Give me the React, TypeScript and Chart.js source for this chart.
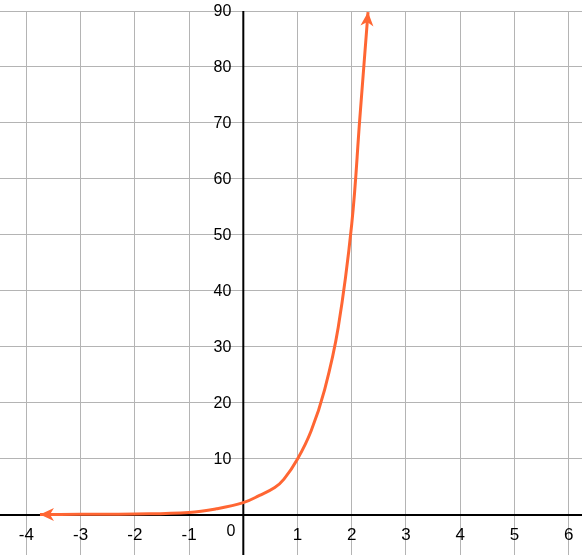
import React, { useEffect, useRef } from "react";
import { Chart, registerables } from "chart.js";

Chart.register(...registerables);

const X_VALUES = [-3.75, -3, -2, -1, -0.5, 0, 0.3, 0.58, 0.75, 1, 1.25, 1.5, 1.75, 2, 2.15, 2.3];
const Y_VALUES = [0.1, 0.12, 0.18, 0.45, 1.1, 2.2, 3.5, 4.9, 6.4, 10, 15, 22.4, 33.5, 52, 71, 89.8];
const X_TICKS = [-4, -3, -2, -1, 0, 1, 2, 3, 4, 5, 6];
const Y_TICKS = [0, 10, 20, 30, 40, 50, 60, 70, 80, 90];
const X_MIN = -4.487;
const X_MAX = 6.246;
const Y_MIN = -7.143;
const Y_MAX = 90;

const LINE_COLOR = "rgb(255,102,51)";
const GRID_COLOR = "#b4b4b4";
const FONT = '16px "Liberation Sans", Arial, sans-serif';

function drawArrow(ctx: CanvasRenderingContext2D, tx: number, ty: number, fx: number, fy: number) {
  const ang = Math.atan2(ty - fy, tx - fx);
  const len = 14;
  const hw = 6.5;
  const notch = 10;
  ctx.save();
  ctx.translate(tx, ty);
  ctx.rotate(ang);
  ctx.fillStyle = LINE_COLOR;
  ctx.beginPath();
  ctx.moveTo(0, 0);
  ctx.lineTo(-len, -hw);
  ctx.lineTo(-notch, 0);
  ctx.lineTo(-len, hw);
  ctx.closePath();
  ctx.fill();
  ctx.restore();
}

const axesPlugin = {
  id: "centerAxes",
  beforeDatasetsDraw(chart: any) {
    const { ctx, chartArea, scales } = chart;
    const x0 = scales.x.getPixelForValue(0);
    const y0 = scales.y.getPixelForValue(0);
    ctx.save();
    ctx.strokeStyle = "#000";
    ctx.lineWidth = 2;
    ctx.beginPath();
    ctx.moveTo(x0, chartArea.top);
    ctx.lineTo(x0, chartArea.bottom);
    ctx.moveTo(chartArea.left, y0);
    ctx.lineTo(chartArea.right, y0);
    ctx.stroke();
    ctx.restore();
  },
  afterDatasetsDraw(chart: any) {
    const { ctx, scales } = chart;
    const xs = scales.x;
    const ys = scales.y;
    const x0 = xs.getPixelForValue(0);
    const y0 = ys.getPixelForValue(0);
    ctx.save();
    ctx.fillStyle = "#000";
    ctx.textBaseline = "middle";
    ctx.textAlign = "center";
    ctx.font = '17px "Liberation Sans", Arial, sans-serif';
    X_TICKS.forEach((v) => {
      if (v === 0) return;
      ctx.fillText(String(v), xs.getPixelForValue(v), y0 + 20.5);
    });
    ctx.font = FONT;
    ctx.fillText("0", x0 - 12.3, y0 + 16.5);
    ctx.textAlign = "right";
    Y_TICKS.forEach((v) => {
      if (v === 0) return;
      ctx.fillText(String(v), x0 - 12, ys.getPixelForValue(v) + 0.7);
    });
    ctx.restore();

    const n = X_VALUES.length;
    drawArrow(
      ctx,
      xs.getPixelForValue(X_VALUES[0]),
      ys.getPixelForValue(Y_VALUES[0]),
      xs.getPixelForValue(X_VALUES[1]),
      ys.getPixelForValue(Y_VALUES[1])
    );
    drawArrow(
      ctx,
      xs.getPixelForValue(X_VALUES[n - 1]),
      ys.getPixelForValue(Y_VALUES[n - 1]),
      xs.getPixelForValue(X_VALUES[n - 2]),
      ys.getPixelForValue(Y_VALUES[n - 2])
    );
  },
};

export default function App() {
  const canvasRef = useRef<HTMLCanvasElement | null>(null);

  useEffect(() => {
    if (!canvasRef.current) return;
    const points = X_VALUES.map((x, i) => ({ x, y: Y_VALUES[i] }));
    const chart = new Chart(canvasRef.current, {
      type: "line",
      data: {
        datasets: [
          {
            data: points,
            borderColor: LINE_COLOR,
            borderWidth: 3,
            pointRadius: 0,
            fill: false,
            tension: 0.4,
            clip: false as any,
          },
        ],
      },
      options: {
        animation: false,
        responsive: false,
        devicePixelRatio: 1,
        layout: { padding: { top: 11, left: 0, right: 0, bottom: 0 } },
        plugins: { legend: { display: false }, tooltip: { enabled: false } },
        scales: {
          x: {
            type: "linear",
            min: X_MIN,
            max: X_MAX,
            afterBuildTicks: (scale: any) => {
              scale.ticks = X_TICKS.map((v) => ({ value: v }));
            },
            ticks: { display: false },
            grid: { color: GRID_COLOR, lineWidth: 1, drawTicks: false, tickLength: 0 },
            border: { display: false },
          },
          y: {
            type: "linear",
            min: Y_MIN,
            max: Y_MAX,
            afterBuildTicks: (scale: any) => {
              scale.ticks = Y_TICKS.map((v) => ({ value: v }));
            },
            ticks: { display: false },
            grid: { color: GRID_COLOR, lineWidth: 1, drawTicks: false, tickLength: 0 },
            border: { display: false },
          },
        },
      },
      plugins: [axesPlugin],
    } as any);
    return () => chart.destroy();
  }, []);

  return (
    <div style={{ position: "absolute", left: 0, top: 0, width: 582, height: 555, background: "#fff" }}>
      <canvas ref={canvasRef} width={582} height={555} style={{ width: 582, height: 555, display: "block" }} />
    </div>
  );
}
